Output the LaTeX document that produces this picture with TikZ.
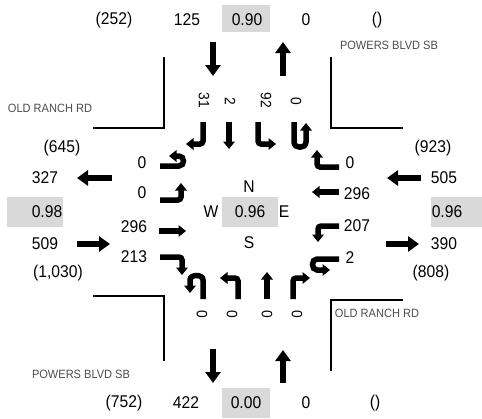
\documentclass[tikz,border=0pt]{standalone}
\usepackage{fontspec}
\setmainfont{Liberation Sans}
\newfontfamily\narrowfont{Liberation Sans}[FakeStretch=0.92]
\usetikzlibrary{arrows.meta}
\definecolor{phfgray}{RGB}{217,217,217}
\begin{document}
\begin{tikzpicture}[
    x=1pt, y=-1pt,
    vol/.style={font=\narrowfont\fontsize{17}{19}\selectfont, inner sep=0pt},
    mvol/.style={font=\narrowfont\fontsize{15}{17}\selectfont, rotate=-90, inner sep=0pt},
    street/.style={font=\narrowfont\fontsize{12}{14}\selectfont, text=black!70, inner sep=0pt},
    approach/.style={line width=6.5pt, -{Triangle[width=15pt,length=11pt]}},
    move/.style={line width=5.5pt, rounded corners=3pt, -{Triangle[width=11.5pt,length=7.5pt]}},
    curb/.style={line width=1.2pt}
]
\useasboundingbox (0,0) rectangle (482,418);

% Peak hour factor boxes
\fill[phfgray] (222,5) rectangle (270,32);
\fill[phfgray] (222,388) rectangle (270,418);
\fill[phfgray] (7,197) rectangle (63,227);
\fill[phfgray] (431,197) rectangle (482,227);
\fill[phfgray] (222,197) rectangle (278,227);

% North leg
\node[vol] (nPast) at (114,20) {(252)};
\node[vol] (nIn) at (187,20) {125};
\node[vol] (nPhf) at (247,20) {0.90};
\node[vol] (nOut) at (306,20) {0};
\node[vol] (nBlank) at (377,20) {()};
\node[street] (nName) at (389,45) {POWERS BLVD SB};
\draw[approach] (213,42) -- (213,76);
\draw[approach] (283,76) -- (283,42);

% West leg
\node[street] (wName) at (50,108) {OLD RANCH RD};
\node[vol] (wPast) at (62,148) {(645)};
\node[vol] (wOut) at (45,178) {327};
\node[vol] (wPhf) at (47,212) {0.98};
\node[vol] (wIn) at (45,244) {509};
\node[vol] (wPast2) at (58,273) {(1,030)};
\draw[approach] (112,178) -- (77,178);
\draw[approach] (77,244) -- (110,244);

% East leg
\node[vol] (ePast) at (433,148) {(923)};
\node[vol] (eIn) at (444,178) {505};
\node[vol] (ePhf) at (447,212) {0.96};
\node[vol] (eOut) at (444,244) {390};
\node[vol] (ePast2) at (431,273) {(808)};
\draw[approach] (421,178) -- (387,178);
\draw[approach] (386,244) -- (419,244);

% South leg
\node[street] (sName) at (81,374) {POWERS BLVD SB};
\node[street] (eName) at (377,313) {OLD RANCH RD};
\node[vol] (sPast) at (124,403) {(752)};
\node[vol] (sOut) at (186,403) {422};
\node[vol] (sPhf) at (246,403) {0.00};
\node[vol] (sIn) at (306,403) {0};
\node[vol] (sBlank) at (375,403) {()};
\draw[approach] (213,349) -- (213,383);
\draw[approach] (283,383) -- (283,350);

% Curb lines
\draw[curb] (93,128) -- (164,128) -- (164,57);
\draw[curb] (331,57) -- (331,128) -- (403,128);
\draw[curb] (93,296) -- (164,296) -- (164,361);
\draw[curb] (403,300) -- (331,300) -- (331,371);

% Center
\node[vol] (cN) at (249,187) {N};
\node[vol] (cS) at (249,243) {S};
\node[vol] (cW) at (211,212) {W};
\node[vol] (cE) at (284,212) {E};
\node[vol] (cPhf) at (250,212) {0.96};

% Southbound movements
\node[mvol] (sbR) at (204,100) {31};
\node[mvol] (sbT) at (230,101) {2};
\node[mvol] (sbL) at (266,100) {92};
\node[mvol] (sbU) at (296,101) {0};
\draw[move] (203,122) -- (203,144) -- (186,144);
\draw[move] (229,122) -- (229,149);
\draw[move] (258,122) -- (258,144) -- (276,144);
\draw[move] (294,122) -- (294,139) .. controls (294,149) and (306,149) .. (306,139) -- (306,123);

% Eastbound movements
\node[vol] (ebU) at (142,163) {0};
\node[vol] (ebL) at (142,193) {0};
\node[vol] (ebT) at (134,227) {296};
\node[vol] (ebR) at (134,257) {213};
\draw[move] (160,166) -- (176,166) .. controls (185,166) and (185,156) .. (176,156) -- (169,156);
\draw[move] (160,200) -- (181,200) -- (181,183);
\draw[move] (159,231) -- (186,231);
\draw[move] (160,257) -- (182,257) -- (182,275);

% Westbound movements
\node[vol] (wbR) at (350,163) {0};
\node[vol] (wbT) at (357,194) {296};
\node[vol] (wbL) at (357,226) {207};
\node[vol] (wbU) at (350,258) {2};
\draw[move] (339,167) -- (317,167) -- (317,150);
\draw[move] (339,192) -- (312,192);
\draw[move] (339,226) -- (318,226) -- (318,242);
\draw[move] (339,259) -- (320,259) .. controls (311,259) and (311,270) .. (320,270) -- (330,270);

% Northbound movements
\node[mvol] (nbU) at (202,314) {0};
\node[mvol] (nbL) at (232,314) {0};
\node[mvol] (nbT) at (267,314) {0};
\node[mvol] (nbR) at (297,314) {0};
\draw[move] (203,299) -- (203,283) .. controls (203,274) and (190,274) .. (190,283) -- (190,293);
\draw[move] (238,299) -- (238,278) -- (220,278);
\draw[move] (267,299) -- (267,272);
\draw[move] (293,299) -- (293,278) -- (310,278);

\end{tikzpicture}
\end{document}
